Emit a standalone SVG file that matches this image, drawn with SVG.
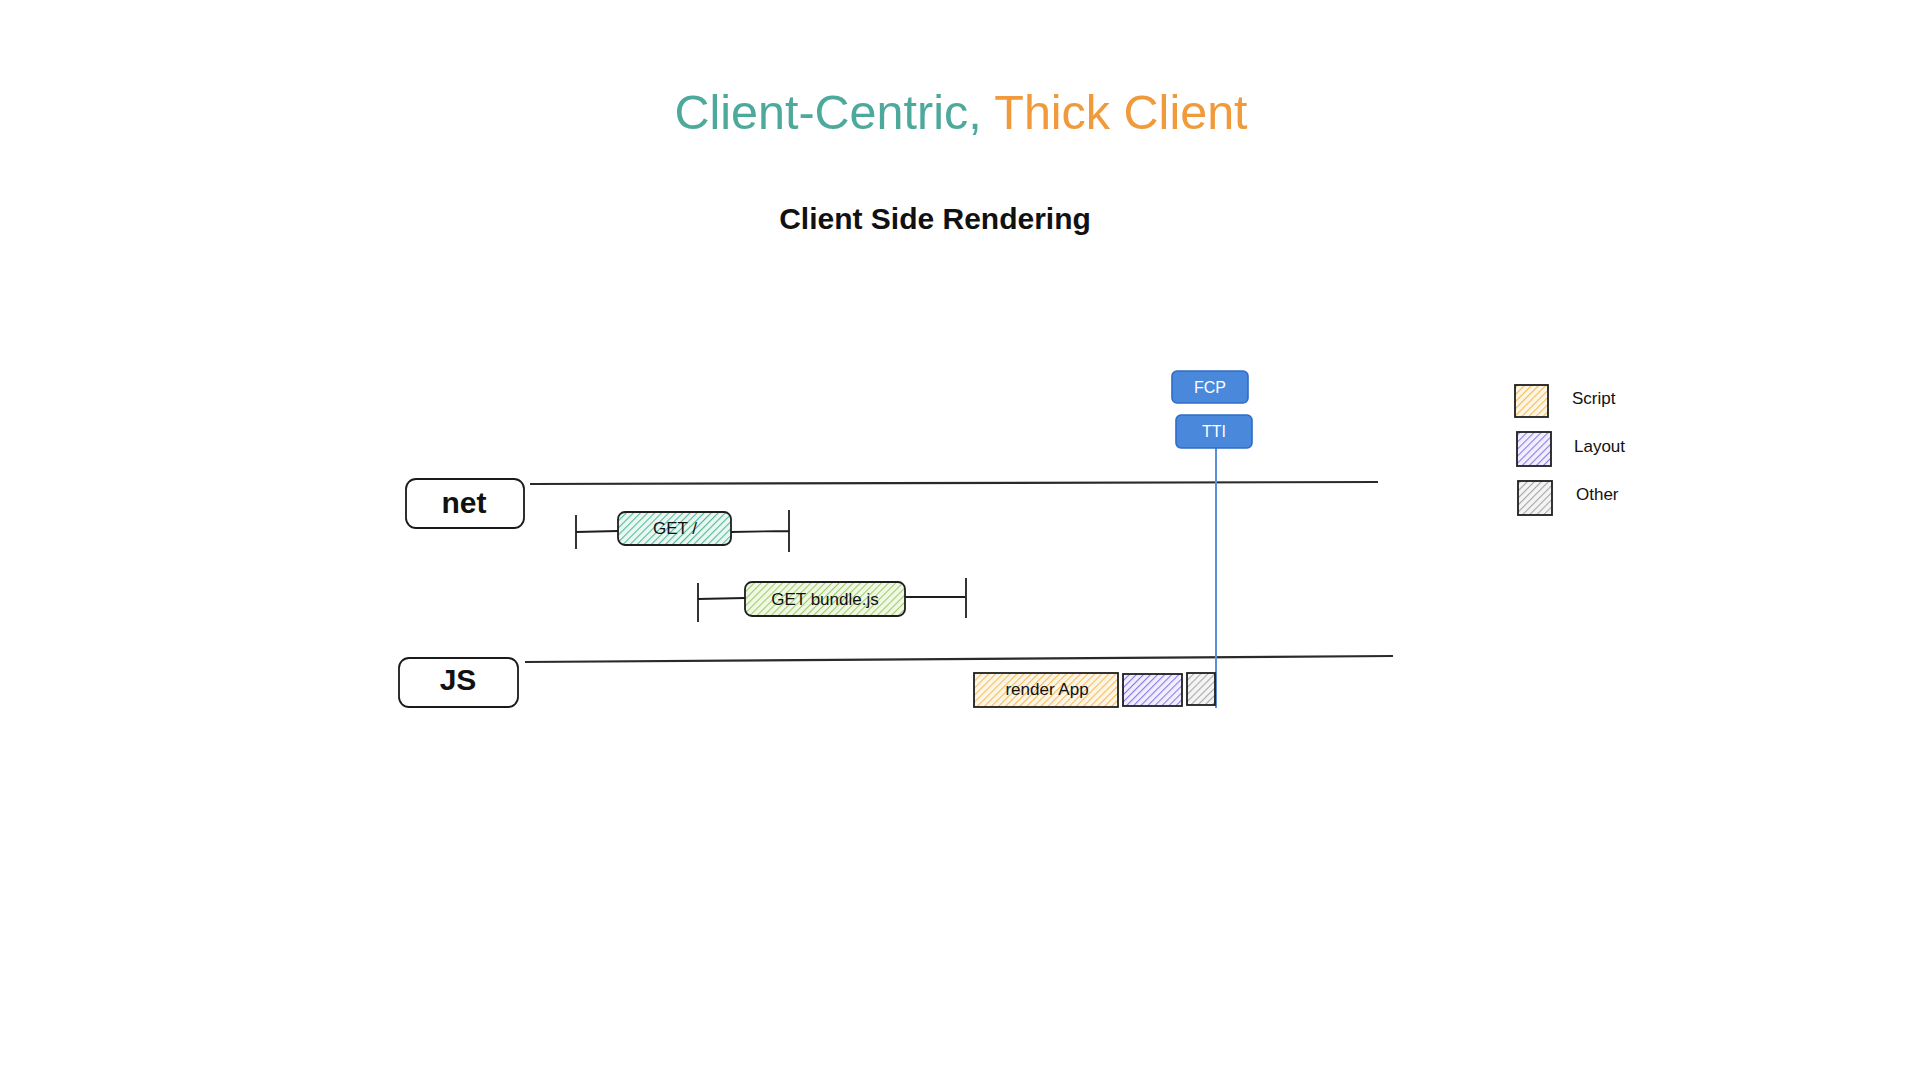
<svg xmlns="http://www.w3.org/2000/svg" width="1920" height="1080" viewBox="0 0 1920 1080">
<style>
  .title{font-family:"Liberation Sans",Arial,sans-serif;font-size:48.5px}
  .sub{font-family:"Liberation Sans",Arial,sans-serif;font-size:30px;font-weight:bold;fill:#111}
  .lane{fill:#fff;stroke:#1a1a1a;stroke-width:1.8}
  .laneTxt{font-family:"Liberation Sans",Arial,sans-serif;font-size:30px;font-weight:bold;fill:#111;text-anchor:middle}
  .box{stroke:#1e1e1e;stroke-width:1.8}
  .lbl{font-family:"Liberation Sans",Arial,sans-serif;font-size:17px;fill:#111;text-anchor:middle}
  .mark{fill:#4a88dc;stroke:#2f6cc8;stroke-width:1.6}
  .markTxt{font-family:"Liberation Sans",Arial,sans-serif;font-size:16px;fill:#fff;text-anchor:middle}
  .legTxt{font-family:"Liberation Sans",Arial,sans-serif;font-size:17px;fill:#111}
  .ln{stroke:#1e1e1e;stroke-width:1.8;fill:none}
  .axis{stroke:#2a2a2a;stroke-width:2.2;fill:none}
</style>
<defs>
  <pattern id="hTeal" patternUnits="userSpaceOnUse" width="5" height="5" patternTransform="rotate(45)"><rect width="5" height="5" fill="#eaf7f2"/><line x1="0" y1="0" x2="0" y2="5" stroke="#52bb99" stroke-width="2.2"/></pattern>
  <pattern id="hGreen" patternUnits="userSpaceOnUse" width="5" height="5" patternTransform="rotate(45)"><rect width="5" height="5" fill="#f1f8e7"/><line x1="0" y1="0" x2="0" y2="5" stroke="#9ccf62" stroke-width="2.2"/></pattern>
  <pattern id="hOrange" patternUnits="userSpaceOnUse" width="5" height="5" patternTransform="rotate(45)"><rect width="5" height="5" fill="#fdf5e6"/><line x1="0" y1="0" x2="0" y2="5" stroke="#f5bd5c" stroke-width="2.2"/></pattern>
  <pattern id="hPurple" patternUnits="userSpaceOnUse" width="5" height="5" patternTransform="rotate(45)"><rect width="5" height="5" fill="#f1effd"/><line x1="0" y1="0" x2="0" y2="5" stroke="#8b7aeb" stroke-width="2.2"/></pattern>
  <pattern id="hGray" patternUnits="userSpaceOnUse" width="5" height="5" patternTransform="rotate(45)"><rect width="5" height="5" fill="#f4f4f4"/><line x1="0" y1="0" x2="0" y2="5" stroke="#a8a8a8" stroke-width="2.2"/></pattern>
</defs>
<rect width="1920" height="1080" fill="#fff"/>

<g id="title">
  <text class="title" x="961" y="129" text-anchor="middle"><tspan fill="#4da99b">Client-Centric, </tspan><tspan fill="#f19a3b">Thick Client</tspan></text>
</g>
<g id="subtitle">
  <text class="sub" x="935" y="229" text-anchor="middle">Client Side Rendering</text>
</g>

<g id="connectors">
  <path class="axis" d="M530 484 L1378 482"/>
  <path class="axis" d="M525 662 L1393 656"/>
  <path class="ln" d="M576 515 L576 549 M576 532 L618 531 M731 532 L789 531 M789 510 L789 552"/>
  <path class="ln" d="M698 583 L698 622 M698 599 L745 598 M905 597 L965 597 M966 578 L966 618"/>
  <line x1="1216" y1="448" x2="1216" y2="708" stroke="#5b8fd6" stroke-width="2"/>
</g>

<g id="net">
  <rect class="lane" x="406" y="479" width="118" height="49" rx="10"/>
  <text class="laneTxt" x="464" y="513">net</text>
</g>
<g id="js">
  <rect class="lane" x="399" y="658" width="119" height="49" rx="10"/>
  <text class="laneTxt" x="458" y="690">JS</text>
</g>

<g id="get-root">
  <rect class="box" x="618" y="512" width="113" height="33" rx="7" fill="url(#hTeal)"/>
  <text class="lbl" x="675" y="534">GET /</text>
</g>
<g id="get-bundle">
  <rect class="box" x="745" y="582" width="160" height="34" rx="7" fill="url(#hGreen)"/>
  <text class="lbl" x="825" y="605">GET bundle.js</text>
</g>

<g id="render-app">
  <rect class="box" x="974" y="673" width="144" height="34" fill="url(#hOrange)"/>
  <text class="lbl" x="1047" y="695">render App</text>
</g>
<g id="layout">
  <rect class="box" x="1123" y="674" width="59" height="32" fill="url(#hPurple)"/>
</g>
<g id="other">
  <rect class="box" x="1187" y="673" width="28" height="32" fill="url(#hGray)"/>
</g>

<g id="fcp">
  <rect class="mark" x="1172" y="371" width="76" height="32" rx="5"/>
  <text class="markTxt" x="1210" y="393">FCP</text>
</g>
<g id="tti">
  <rect class="mark" x="1176" y="415" width="76" height="33" rx="5"/>
  <text class="markTxt" x="1214" y="437">TTI</text>
</g>

<g id="legend-script">
  <rect class="box" x="1515" y="385" width="33" height="32" fill="url(#hOrange)"/>
  <text class="legTxt" x="1572" y="404">Script</text>
</g>
<g id="legend-layout">
  <rect class="box" x="1517" y="432" width="34" height="34" fill="url(#hPurple)"/>
  <text class="legTxt" x="1574" y="452">Layout</text>
</g>
<g id="legend-other">
  <rect class="box" x="1518" y="481" width="34" height="34" fill="url(#hGray)"/>
  <text class="legTxt" x="1576" y="500">Other</text>
</g>
</svg>
